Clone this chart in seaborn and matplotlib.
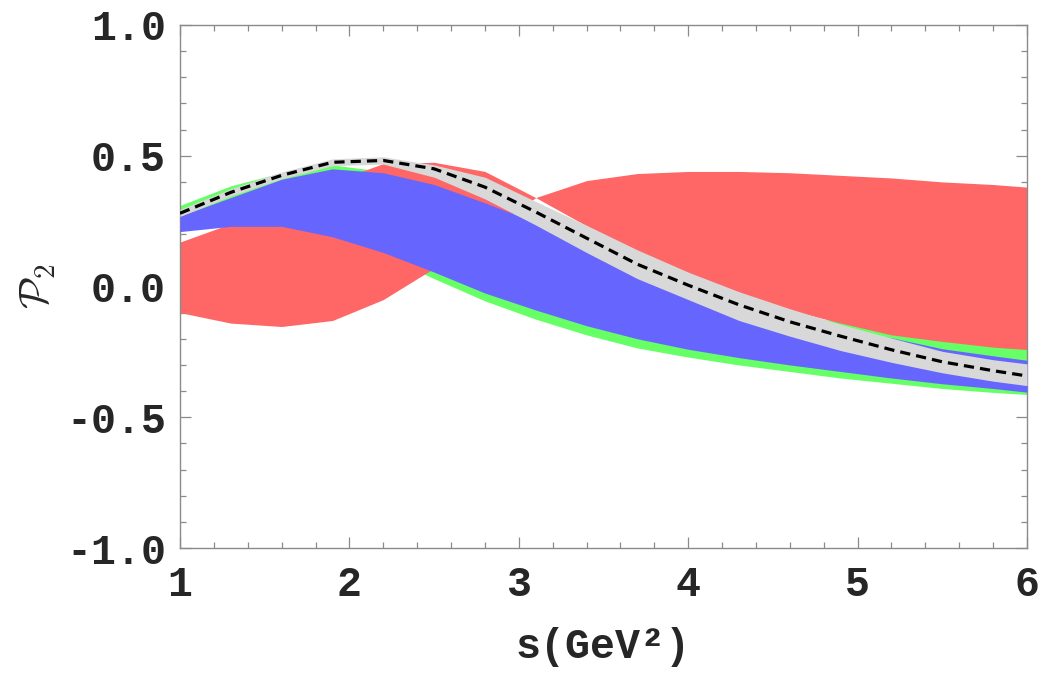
import matplotlib
matplotlib.use("Agg")
import matplotlib.pyplot as plt
import numpy as np
import pandas as pd
import seaborn as sns

# s grid (GeV^2) at which the bands were sampled
S = [1.0, 1.3, 1.6, 1.9, 2.2, 2.5, 2.8, 3.1, 3.4, 3.7, 4.0, 4.3, 4.6, 4.9, 5.2, 5.5, 5.8, 6.0]

# central (dashed) curve and its gray band
CENTRAL = [0.28, 0.36, 0.425, 0.475, 0.482, 0.45, 0.38, 0.285, 0.185, 0.085, 0.005,
           -0.07, -0.135, -0.19, -0.242, -0.288, -0.322, -0.342]
GRAY_HI = [0.295, 0.374, 0.438, 0.488, 0.496, 0.465, 0.418, 0.325, 0.234, 0.14, 0.055,
           -0.02, -0.085, -0.145, -0.197, -0.248, -0.28, -0.296]
GRAY_LO = [0.268, 0.346, 0.412, 0.462, 0.468, 0.418, 0.335, 0.235, 0.13, 0.03, -0.05,
           -0.13, -0.19, -0.245, -0.29, -0.33, -0.362, -0.379]

# blue band
BLUE_HI = [0.27, 0.34, 0.41, 0.45, 0.435, 0.39, 0.32, 0.245, 0.155, 0.065, -0.015,
           -0.085, -0.14, -0.17, -0.196, -0.238, -0.265, -0.282]
BLUE_LO = [0.21, 0.23, 0.23, 0.19, 0.13, 0.055, -0.025, -0.09, -0.15, -0.2, -0.24,
           -0.272, -0.30, -0.325, -0.35, -0.372, -0.39, -0.404]

# green band
GREEN_HI = [0.31, 0.385, 0.435, 0.465, 0.44, 0.40, 0.33, 0.25, 0.16, 0.07, -0.01,
            -0.08, -0.12, -0.13, -0.17, -0.20, -0.225, -0.235]
GREEN_LO = [0.22, 0.24, 0.235, 0.195, 0.12, 0.03, -0.055, -0.125, -0.185, -0.235, -0.27,
            -0.30, -0.325, -0.35, -0.37, -0.39, -0.405, -0.413]

# red band (the two edges cross near s = 3.1)
RED_A = [0.17, 0.24, 0.33, 0.40, 0.47, 0.475, 0.44, 0.34, 0.232, 0.135, 0.05,
         -0.025, -0.09, -0.14, -0.185, -0.21, -0.232, -0.241]
RED_B = [-0.10, -0.14, -0.153, -0.13, -0.05, 0.07, 0.20, 0.34, 0.405, 0.432, 0.44,
         0.44, 0.435, 0.425, 0.415, 0.40, 0.39, 0.38]

Y_TICKS = [-1.0, -0.5, 0.0, 0.5, 1.0]
Y_LABELS = ["-1.0", "-0.5", "0.0", "0.5", "1.0"]
X_TICKS = [1, 2, 3, 4, 5, 6]

sns.set_theme(style="ticks")
plt.rcParams["font.family"] = ["Liberation Mono", "DejaVu Sans Mono"]
plt.rcParams["font.weight"] = "bold"
plt.rcParams["mathtext.fontset"] = "cm"

fig = plt.figure(figsize=(10.42, 6.73), dpi=100)
ax = fig.add_axes([180 / 1042, 125 / 673, 847 / 1042, 523 / 673])

df = pd.DataFrame({"s": S, "central": CENTRAL})

ax.fill_between(S, GREEN_LO, GREEN_HI, color="#66ff66", lw=0, zorder=1)
ax.fill_between(S, RED_B, RED_A, color="#ff6666", lw=0, zorder=2)
ax.fill_between(S, BLUE_LO, BLUE_HI, color="#6666ff", lw=0, zorder=3)
ax.fill_between(S, GRAY_LO, GRAY_HI, color="#d8d8d8", lw=0, zorder=4)
sns.lineplot(data=df, x="s", y="central", ax=ax, color="black", lw=2.3,
             linestyle=(0, (3.2, 1.9)), zorder=5)

ax.set_xlim(1, 6)
ax.set_ylim(-1, 1)
ax.set_xticks(X_TICKS)
ax.set_xticklabels([str(t) for t in X_TICKS])
ax.set_yticks(Y_TICKS)
ax.set_yticklabels(Y_LABELS)
ax.set_xticks(np.arange(1, 6.01, 0.2), minor=True)
ax.set_yticks(np.arange(-1, 1.01, 0.1), minor=True)

for sp in ax.spines.values():
    sp.set_visible(True)
    sp.set_color("#8a8a8a")
    sp.set_linewidth(1.0)

ax.tick_params(which="both", direction="in", top=True, right=True, color="#8a8a8a", width=0.9)
ax.tick_params(which="major", length=8)
ax.tick_params(which="minor", length=4)
ax.tick_params(axis="y", which="major", labelsize=30, pad=10)
ax.tick_params(axis="x", which="major", labelsize=30, pad=12)

ax.set_xlabel("s(GeV²)", fontsize=30, fontweight="bold", labelpad=16)
ax.set_ylabel(r"$\mathcal{P}_2$", fontsize=30)
ax.yaxis.set_label_coords(-(180 - 58) / 847, 0.5)

fig.savefig("out.png", dpi=100)
